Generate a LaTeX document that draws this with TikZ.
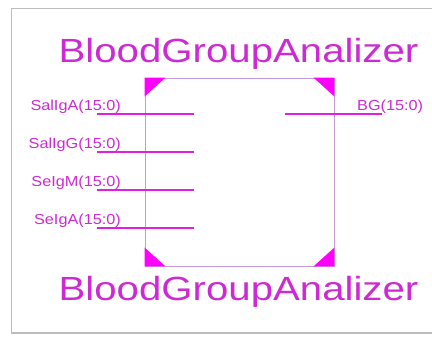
\documentclass[tikz,border=0pt]{standalone}
\usepackage{fontspec}
\setmainfont{Liberation Sans}
\usepackage{graphicx}
\definecolor{pinc}{HTML}{E020E0}
\definecolor{txtc}{HTML}{CC2AD2}
\definecolor{boxc}{HTML}{C89AD6}
\definecolor{framec}{HTML}{BDBDBD}
\definecolor{cornc}{HTML}{FF00FF}
\begin{document}
\begin{tikzpicture}[x=1pt,y=-1pt,
  title/.style={text=txtc,inner sep=0pt,font=\fontsize{33.5}{38}\selectfont,anchor=base},
  pinlabel/.style={text=txtc,inner sep=0pt,font=\fontsize{14.5}{16}\selectfont},
  pin/.style={draw=pinc,line width=1.8pt},
  corner/.style={fill=cornc,draw=none}]
\useasboundingbox (0,0) rectangle (432,338);
\fill[white] (0,0) rectangle (432,338);
\draw[framec,line width=1.4pt] (11.5,8.5) rectangle (445,333);
% block
\node[draw=boxc,line width=0.9pt,minimum width=189pt,minimum height=188pt,inner sep=0pt] (blk) at (239.5,172) {};
\fill[corner] (blk.north west) -- ++(21,0) -- ++(-21,19) -- cycle;
\fill[corner] (blk.north east) -- ++(-21,0) -- ++(21,19) -- cycle;
\fill[corner] (blk.south west) -- ++(21,0) -- ++(-21,-19) -- cycle;
\fill[corner] (blk.south east) -- ++(-21,0) -- ++(21,-19) -- cycle;
% titles
\node[title] (ttop) at (238.5,62) {\scalebox{1.2}[1]{BloodGroupAnalizer}};
\node[title] (tbot) at (238.5,300) {\scalebox{1.2}[1]{BloodGroupAnalizer}};
% input pins
\foreach \n/\yy/\lab in {a/114/SalIgA(15:0),b/152/SalIgG(15:0),c/190/SeIgM(15:0),d/228/SeIgA(15:0)}{
  \coordinate (in\n o) at (97,\yy);
  \coordinate (in\n i) at (194,\yy);
  \draw[pin] (in\n o) -- (in\n i);
  \node[pinlabel,anchor=base east] (lab\n) at (121,\yy-3.5) {\scalebox{1.12}[1]{\lab}};
}
% output pin
\coordinate (outi) at (285,114);
\coordinate (outo) at (382,114);
\draw[pin] (outi) -- (outo);
\node[pinlabel,anchor=base west] (labout) at (357,110.5) {\scalebox{1.12}[1]{BG(15:0)}};
\end{tikzpicture}
\end{document}
